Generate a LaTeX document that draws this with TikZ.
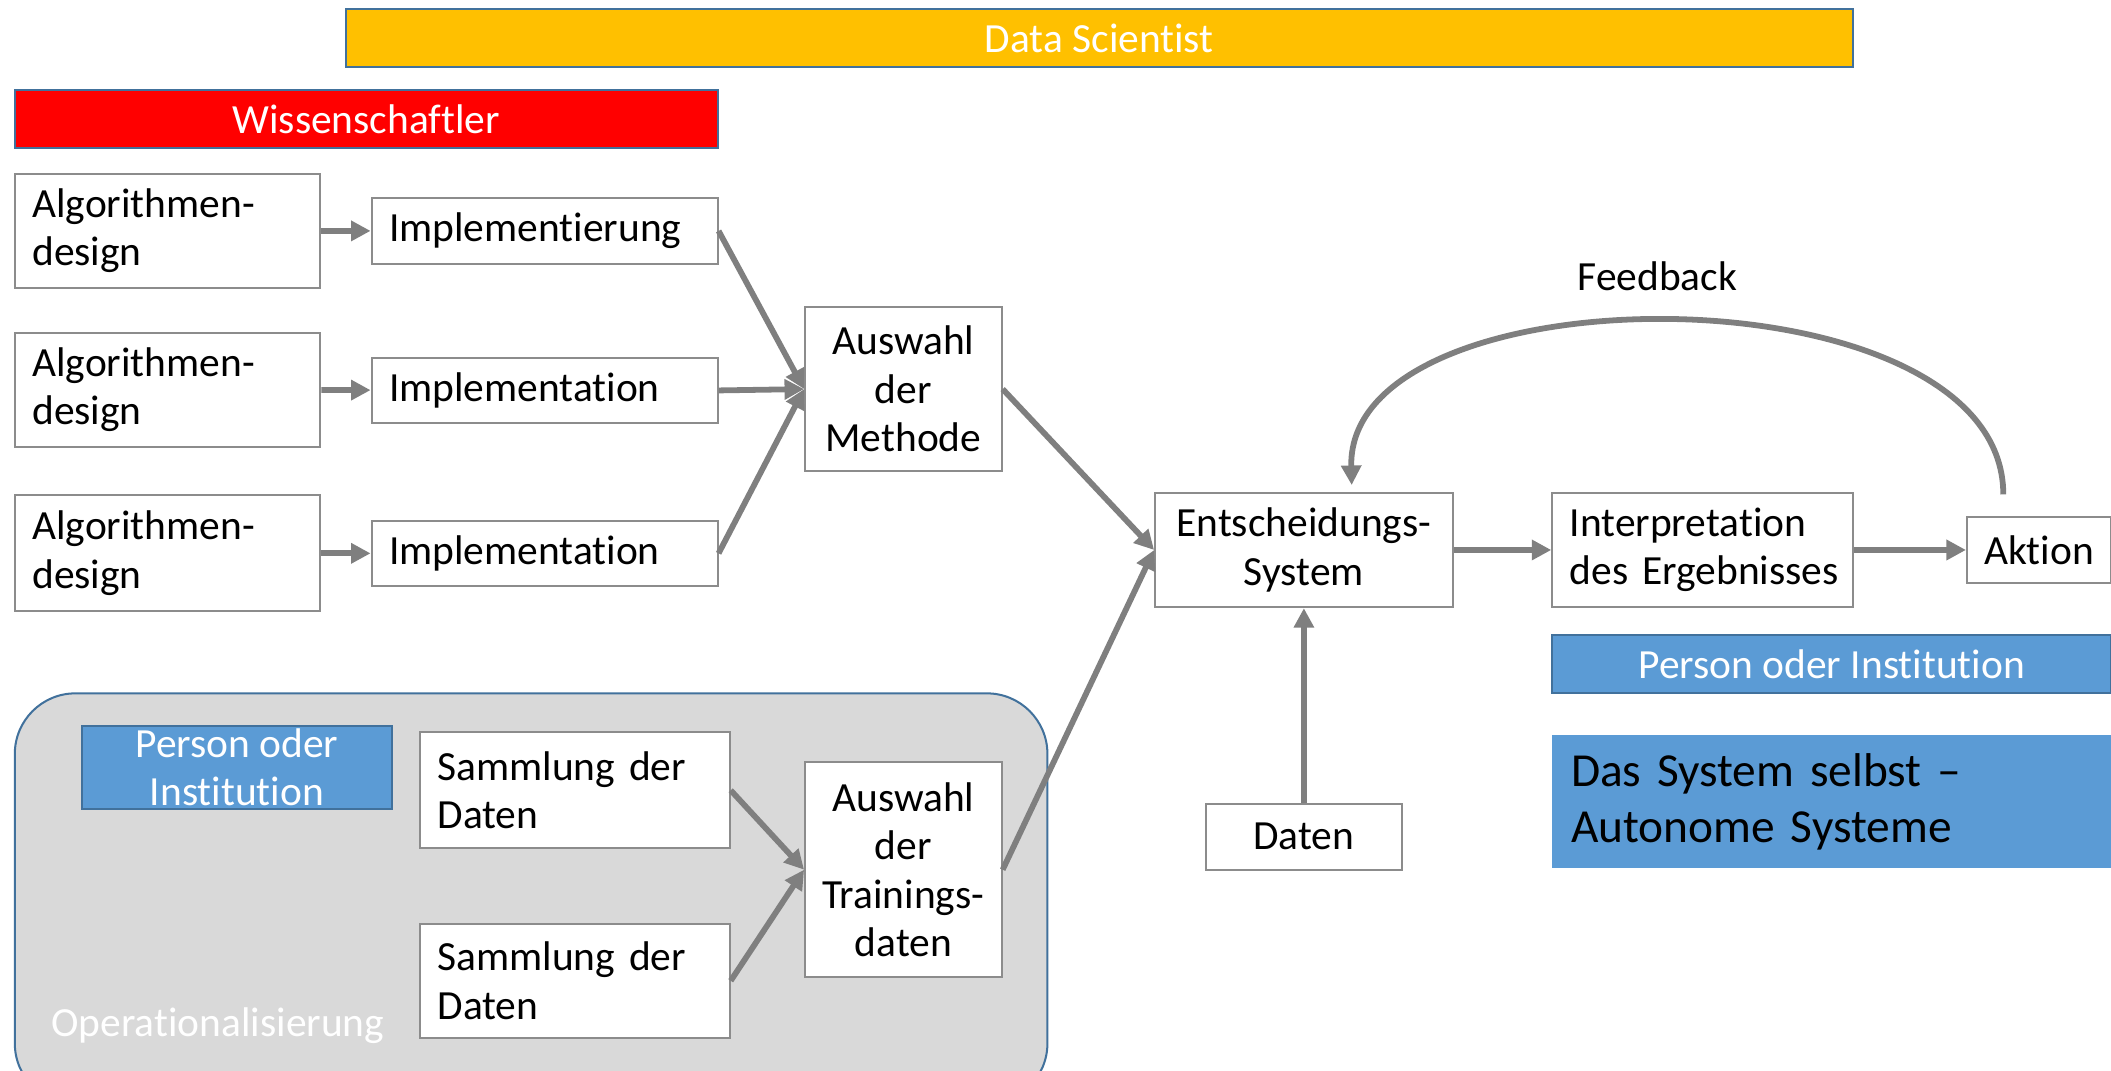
\documentclass[tikz,border=0pt]{standalone}
\usepackage{fontspec}
\setmainfont{Carlito}[Ligatures=NoCommon]
\usetikzlibrary{arrows.meta}
\definecolor{dsgold}{HTML}{FFC000}
\definecolor{wissred}{HTML}{FF0000}
\definecolor{persblue}{HTML}{5B9BD5}
\definecolor{rimblue}{HTML}{41719C}
\definecolor{opsgray}{HTML}{D9D9D9}
\definecolor{boxgray}{HTML}{8C8C8C}
\definecolor{arrgray}{HTML}{7F7F7F}
\newcommand{\normtext}{\fontsize{30.8}{36}\selectfont}
\newcommand{\bigtext}{\fontsize{35.2}{42}\selectfont}
\hyphenpenalty=10000

\begin{document}
\begin{tikzpicture}[x=1pt,y=-1pt,
    box/.style={draw=boxgray,fill=white,line width=1.5pt,inner sep=0pt,font=\normtext},
    lbox/.style={box,align=left,text width=#1,inner xsep=13pt},
    cbox/.style={box,align=center},
    bar/.style={draw=rimblue,line width=1.5pt,text=white,inner sep=0pt,align=center,font=\normtext},
    arr/.style={draw=arrgray,line width=4.3pt,-{Triangle[length=14.5pt,width=14.5pt]}}]
    \useasboundingbox (0,0) rectangle (1568,795.5);

    % Kopfbalken
    \node[bar,fill=dsgold,minimum width=1119pt,minimum height=43pt] at (816.5,28.5) (ds) {Data Scientist};
    \node[bar,fill=wissred,minimum width=522pt,minimum height=43pt] at (272,88.5) (wiss) {Wissenschaftler};

    % Operationalisierung (Hintergrund)
    \node[draw=rimblue,fill=opsgray,line width=1.5pt,rounded corners=45pt,minimum width=767pt,minimum height=305pt] at (394.5,667.5) (ops) {};
    \node[anchor=west,text=white,font=\normtext,inner sep=0pt] at (38,762) (opslbl) {Operationalisierung};

    % Methodenseite
    \node[lbox=201pt,minimum height=85pt] at (124.5,171.5) (alg1) {Algorithmen-\\design};
    \node[lbox=201pt,minimum height=85pt] at (124.5,289.5) (alg2) {Algorithmen-\\design};
    \node[lbox=201pt,minimum height=86pt] at (124.5,411) (alg3) {Algorithmen-\\design};

    \node[lbox=231pt,minimum height=49pt] at (404.5,171.5) (impl1) {Implementierung};
    \node[lbox=231pt,minimum height=48pt] at (404.5,290) (impl2) {Implementation};
    \node[lbox=231pt,minimum height=48pt] at (404.5,411) (impl3) {Implementation};

    \node[cbox,minimum width=146pt,minimum height=122pt] at (671,289) (meth) {Auswahl\\der\\Methode};

    % Datenseite
    \node[bar,fill=persblue,minimum width=230pt,minimum height=62pt] at (176,570) (pers1) {Person oder\\Institution};
    \node[lbox=204pt,minimum height=86pt] at (427,587) (samm1) {Sammlung der\\Daten};
    \node[lbox=204pt,minimum height=85pt] at (427,728.5) (samm2) {Sammlung der\\Daten};
    \node[cbox,minimum width=146pt,minimum height=160pt] at (671,646) (train) {Auswahl\\der\\Trainings-\\daten};

    % System und Ergebnis
    \node[cbox,minimum width=221pt,minimum height=85pt] at (968.5,408.5) (ent) {Entscheidungs-\\System};
    \node[cbox,minimum width=145pt,minimum height=49pt] at (968.5,621.5) (daten) {Daten};
    \node[lbox=197pt,minimum height=85pt] at (1264.5,408.5) (interp) {Interpretation\\des~Ergebnisses};
    \node[cbox,minimum width=107pt,minimum height=49pt] at (1514.5,408.5) (akt) {Aktion};
    \node[font=\normtext,inner sep=0pt] at (1231,205) (fb) {Feedback};

    \node[bar,fill=persblue,minimum width=415pt,minimum height=43pt] at (1360.5,493.5) (pers2) {Person oder Institution};
    \node[fill=persblue,font=\bigtext,align=left,inner sep=0pt,inner xsep=14pt,text width=387pt,minimum height=99pt] at (1360.5,595.5) (selbst) {Das System selbst --\\Autonome Systeme};

    % Pfeile
    \path (alg1) edge[arr] (impl1);
    \path (alg2) edge[arr] (impl2);
    \path (alg3) edge[arr] (impl3);
    \path (impl1.east) edge[arr] (meth.west);
    \path (impl2.east) edge[arr] (meth.west);
    \path (impl3.east) edge[arr] (meth.west);
    \path (samm1.east) edge[arr] (train.west);
    \path (samm2.east) edge[arr] (train.west);
    \path (meth.east) edge[arr] (ent.west);
    \path (train.east) edge[arr] (ent.west);
    \path (daten) edge[arr] (ent);
    \path (ent) edge[arr] (interp);
    \path (interp) edge[arr] (akt);
    \draw[arr] ([xshift=-26.5pt,yshift=16pt]akt.north) .. controls (1488,197) and (1000,197) .. ([xshift=35.5pt,yshift=5pt]ent.north);
\end{tikzpicture}
\end{document}
